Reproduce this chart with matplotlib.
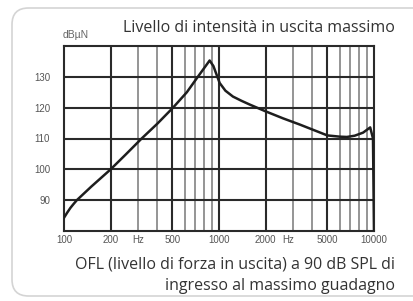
import matplotlib
matplotlib.use("Agg")
import matplotlib.pyplot as plt
from matplotlib.patches import FancyBboxPatch

# frequency response (Hz, dBuN)
freq = [100, 105, 110, 115, 121, 150, 200, 250, 317, 400, 505, 620, 730,
        820, 870, 920, 1010, 1100, 1230, 1400, 1580, 2000, 2600, 3330, 4200,
        5000, 6000, 6680, 7500, 8500, 9450, 9850, 10000]
level = [84.3, 86.0, 87.5, 88.7, 90.0, 94.4, 100.0, 104.8, 110.0, 114.8,
         120.0, 125.0, 130.0, 133.5, 135.3, 133.5, 128.0, 125.5, 123.6, 122.2,
         121.0, 118.8, 116.5, 114.5, 112.5, 111.0, 110.6, 110.5, 110.9, 111.9,
         113.6, 110.0, 80.0]

major_x = [200, 500, 1000, 2000, 5000]
minor_x = [300, 400, 600, 700, 800, 900, 3000, 4000, 6000, 7000, 8000, 9000]
yticks = [90, 100, 110, 120, 130]
xtick_vals = [100, 200, 300, 500, 1000, 2000, 2800, 5000, 10000]
xtick_labels = ["100", "200", "Hz", "500", "1000", "2000", "Hz", "5000", "10000"]

title = "Livello di intensità in uscita massimo"
caption = "OFL (livello di forza in uscita) a 90 dB SPL di\ningresso al massimo guadagno"

W, H = 414, 301
fig = plt.figure(figsize=(W / 100, H / 100), dpi=100)

# card outline
card = FancyBboxPatch((12 / W, 1 - 296 / H), 430 / W, 288 / H,
                      boxstyle="round,pad=0,rounding_size=0.04",
                      transform=fig.transFigure, facecolor="white",
                      edgecolor="#d4d4d4", linewidth=1.2, mutation_aspect=W / H,
                      zorder=-5)
fig.patches.append(card)

ax = fig.add_axes([64 / W, 1 - 231 / H, 310 / W, 185 / H])
ax.set_zorder(2)
ax.set_facecolor("none")
ax.set_xscale("log")
ax.set_xlim(100, 10000)
ax.set_ylim(80, 140)

for x in minor_x:
    ax.axvline(x, color="#8c8c8c", lw=1.3, zorder=1)
for x in major_x:
    ax.axvline(x, color="#2a2a2a", lw=1.5, zorder=2)
for y in yticks:
    ax.axhline(y, color="#2a2a2a", lw=1.5, zorder=2)

ax.plot(freq, level, color="#1e1e1e", lw=1.8, zorder=3, solid_joinstyle="round")

for s in ax.spines.values():
    s.set_color("#2a2a2a")
    s.set_linewidth(1.5)

ax.xaxis.set_minor_locator(matplotlib.ticker.NullLocator())
ax.set_xticks(xtick_vals)
ax.set_xticklabels(xtick_labels)
ax.set_yticks(yticks)
ax.set_yticklabels([str(v) for v in yticks])
ax.tick_params(length=0, labelsize=7, labelcolor="#555555", pad=3)
ax.tick_params(axis="y", pad=10)
for lab in ax.get_xticklabels() + ax.get_yticklabels():
    lab.set_family("Liberation Sans")

fig.text(63 / W, 1 - 35 / H, "dBµN", fontsize=7.5, color="#666666",
         family="Liberation Sans", va="center", ha="left")
fig.text(395 / W, 1 - 28 / H, title, fontsize=11.5, color="#333333",
         family="Open Sans", ha="right", va="center")
fig.text(395 / W, 1 - 275.5 / H, caption, fontsize=11.5, color="#333333",
         family="Open Sans", ha="right", va="center", multialignment="right",
         linespacing=1.45)

fig.savefig("out.png", dpi=100)
